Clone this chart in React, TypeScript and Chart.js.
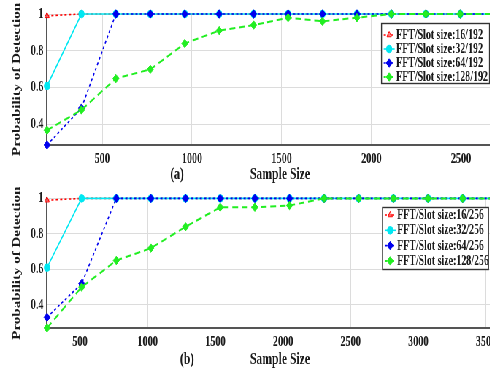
import React, { useEffect, useRef } from "react";
import { Chart, registerables } from "chart.js";
import { drawPoint } from "chart.js/helpers";

Chart.register(...registerables);

// ---------- data (a) ----------
const xA = [192, 384, 576, 768, 960, 1152, 1344, 1536, 1728, 1920, 2112, 2304, 2496, 2688];
const red192 = [0.99, 1, 1, 1, 1, 1, 1, 1, 1, 1, 1, 1, 1, 1];
const cyan192 = [0.61, 1, 1, 1, 1, 1, 1, 1, 1, 1, 1, 1, 1, 1];
const blue192 = [0.29, 0.49, 1, 1, 1, 1, 1, 1, 1, 1, 1, 1, 1, 1];
const green192 = [0.37, 0.48, 0.65, 0.7, 0.84, 0.91, 0.94, 0.98, 0.96, 0.98, 1, 1, 1, 1];
const xTicksA = [500, 1000, 1500, 2000, 2500];

// ---------- data (b) ----------
const xB = [256, 512, 768, 1024, 1280, 1536, 1792, 2048, 2304, 2560, 2816, 3072, 3328, 3584];
const red256 = [0.99, 1, 1, 1, 1, 1, 1, 1, 1, 1, 1, 1, 1, 1];
const cyan256 = [0.61, 1, 1, 1, 1, 1, 1, 1, 1, 1, 1, 1, 1, 1];
const blue256 = [0.33, 0.52, 1, 1, 1, 1, 1, 1, 1, 1, 1, 1, 1, 1];
const green256 = [0.27, 0.5, 0.65, 0.72, 0.84, 0.95, 0.95, 0.96, 1, 1, 1, 1, 1, 1];
const xTicksB = [500, 1000, 1500, 2000, 2500, 3000, 3500];

const yTicks = [0.4, 0.6, 0.8, 1];
const labelsA = ["FFT/Slot size:16/192", "FFT/Slot size:32/192", "FFT/Slot size:64/192", "FFT/Slot size:128/192"];
const labelsB = ["FFT/Slot size:16/256", "FFT/Slot size:32/256", "FFT/Slot size:64/256", "FFT/Slot size:128/256"];

const FONT = '"Liberation Serif", "Times New Roman", serif';
const TEXT = "#1a1a1a";
const K = 0.73; // horizontal squeeze of the whole figure
const CW = 720; // internal canvas width

const styles = [
  { color: "#ff0000", fill: "rgba(255,120,120,0.6)", dash: [3, 3], width: 1.6, point: "triangle", r: 3.5, order: 3 },
  { color: "#00e8f2", fill: "#00e8f2", dash: [], width: 1.6, point: "circle", r: 3.8, order: 2 },
  { color: "#0000ee", fill: "#0000ee", dash: [3, 3], width: 1.6, point: "rectRot", r: 4.2, order: 1 },
  { color: "#22ee22", fill: "#22ee22", dash: [8, 5], width: 2, point: "rectRot", r: 4.2, order: 0 },
];

function makeDatasets(xs: number[], series: number[][], labels: string[]) {
  return series.map((ys, i) => {
    const s = styles[i];
    return {
      label: labels[i],
      data: xs.map((x, k) => ({ x, y: ys[k] })),
      borderColor: s.color,
      backgroundColor: s.fill,
      borderWidth: s.width,
      borderDash: s.dash,
      pointStyle: s.point,
      pointRadius: s.r,
      pointBorderColor: s.color,
      pointBackgroundColor: s.fill,
      pointBorderWidth: 1,
      order: s.order,
      clip: false as any,
    };
  });
}

function overlayPlugin(
  tag: string,
  tagX: number,
  labelY: number,
  box: { x: number; y: number; w: number; h: number; y0: number; dy: number }
) {
  return {
    id: "overlay",
    afterDraw(chart: any) {
      const ctx = chart.ctx as CanvasRenderingContext2D;
      const a = chart.chartArea;
      ctx.save();
      ctx.fillStyle = TEXT;
      ctx.font = `bold 16px ${FONT}`;
      ctx.textAlign = "center";
      ctx.textBaseline = "middle";
      ctx.fillText("Sample Size", (a.left + a.right) / 2, labelY);
      ctx.fillText(tag, tagX, labelY);
      ctx.save();
      ctx.translate(23, (a.top + a.bottom) / 2);
      ctx.rotate(-Math.PI / 2);
      ctx.font = `bold 15px ${FONT}`;
      ctx.fillText("Probability of Detection", 0, 0);
      ctx.restore();

      // legend
      ctx.fillStyle = "#ffffff";
      ctx.fillRect(box.x, box.y, box.w, box.h);
      ctx.strokeStyle = "#333333";
      ctx.lineWidth = 1.4;
      ctx.strokeRect(box.x, box.y, box.w, box.h);
      const dsList = chart.data.datasets;
      dsList.forEach((ds: any, i: number) => {
        const yy = box.y + box.y0 + i * box.dy;
        const s = styles[i];
        ctx.save();
        ctx.strokeStyle = s.color;
        ctx.lineWidth = s.width;
        ctx.setLineDash(s.dash.length ? [3, 2] : []);
        ctx.beginPath();
        ctx.moveTo(box.x + 3, yy);
        ctx.lineTo(box.x + 18, yy);
        ctx.stroke();
        ctx.setLineDash([]);
        ctx.fillStyle = s.fill;
        ctx.strokeStyle = s.color;
        ctx.lineWidth = 1;
        drawPoint(ctx, { pointStyle: s.point as any, radius: s.r, rotation: 0, borderWidth: 1 } as any, box.x + 10.5, yy);
        ctx.restore();
        ctx.fillStyle = TEXT;
        ctx.font = `bold 13.6px ${FONT}`;
        ctx.textAlign = "left";
        ctx.textBaseline = "middle";
        ctx.fillText(ds.label, box.x + 20, yy + 0.5);
      });
      ctx.restore();
    },
  };
}

function buildConfig(
  xs: number[],
  series: number[][],
  labels: string[],
  xMin: number,
  xMax: number,
  yMin: number,
  xTicks: number[],
  axisH: number,
  padTop: number,
  plugin: any
) {
  const tickFont = { family: FONT, size: 14, weight: "bold" as const };
  return {
    type: "line" as const,
    data: { datasets: makeDatasets(xs, series, labels) },
    options: {
      animation: false as const,
      responsive: false,
      events: [],
      layout: { padding: { top: padTop, right: CW - 513 / K, left: 0, bottom: 0 } },
      plugins: { legend: { display: false }, tooltip: { enabled: false } },
      scales: {
        x: {
          type: "linear" as const,
          min: xMin,
          max: xMax,
          afterBuildTicks: (sc: any) => {
            sc.ticks = xTicks.map((v) => ({ value: v }));
          },
          afterFit: (sc: any) => {
            sc.height = axisH;
          },
          grid: { color: "#dcdcdc", lineWidth: 1, drawTicks: false },
          border: { color: "#555555", width: 2 },
          ticks: {
            padding: 6,
            color: TEXT,
            font: tickFont,
            maxRotation: 0,
            callback: (v: any) => String(v),
          },
        },
        y: {
          type: "linear" as const,
          min: yMin,
          max: 1,
          afterBuildTicks: (sc: any) => {
            sc.ticks = yTicks.map((v) => ({ value: v }));
          },
          afterFit: (sc: any) => {
            sc.width = 47 / K;
          },
          grid: { color: "#dcdcdc", lineWidth: 1, drawTicks: false },
          border: { color: "#555555", width: 2 },
          ticks: {
            padding: 5,
            color: TEXT,
            font: tickFont,
            callback: (v: any) => String(v),
          },
        },
      },
    },
    plugins: [plugin],
  };
}

function Panel(props: { cfg: any; top: number; height: number }) {
  const ref = useRef<HTMLCanvasElement | null>(null);
  useEffect(() => {
    if (!ref.current) return;
    const chart = new Chart(ref.current, props.cfg);
    return () => chart.destroy();
  }, []);
  return (
    <canvas
      ref={ref}
      width={CW}
      height={props.height}
      style={{ position: "absolute", left: 0, top: props.top, width: CW, height: props.height }}
    />
  );
}

export default function App() {
  const cfgA = buildConfig(
    xA,
    [red192, cyan192, blue192, green192],
    labelsA,
    192,
    2790,
    0.29,
    xTicksA,
    40,
    14,
    overlayPlugin("(a)", 177 / K, 175, { x: 381.5 / K, y: 23.5, w: 108 / K, h: 60, y0: 11.5, dy: 14 })
  );
  const cfgB = buildConfig(
    xB,
    [red256, cyan256, blue256, green256],
    labelsB,
    256,
    3700,
    0.27,
    xTicksB,
    47,
    11,
    overlayPlugin("(b)", 187 / K, 175, { x: 382.5 / K, y: 22.5, w: 106 / K, h: 62, y0: 7.5, dy: 15.3 })
  );
  return (
    <div
      style={{
        position: "absolute",
        left: 0,
        top: 0,
        width: 490,
        height: 375,
        overflow: "hidden",
        background: "#ffffff",
      }}
    >
      <div
        style={{
          position: "absolute",
          left: 0,
          top: 0,
          width: CW,
          height: 375,
          transform: `scaleX(${K})`,
          transformOrigin: "0 0",
        }}
      >
        <Panel cfg={cfgA} top={0} height={185} />
        <Panel cfg={cfgB} top={185} height={190} />
      </div>
    </div>
  );
}
